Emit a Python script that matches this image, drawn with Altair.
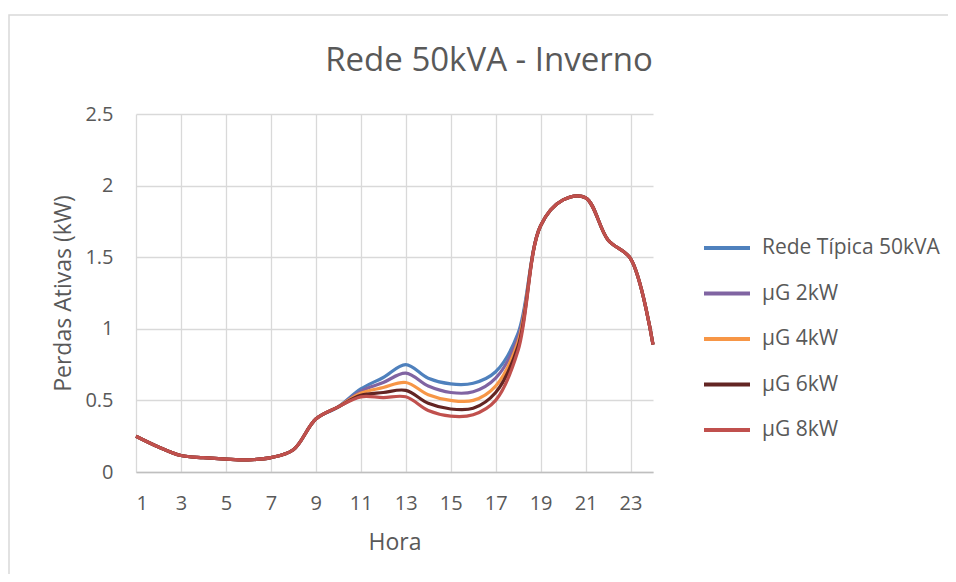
import altair as alt
import pandas as pd

hours = list(range(1, 25))
series_names = ["Rede Típica 50kVA", "µG 2kW", "µG 4kW", "µG 6kW", "µG 8kW"]
colors = ["#4F81BD", "#8064A2", "#F79646", "#632523", "#C0504D"]

common_start = [0.25, 0.175, 0.115, 0.10, 0.09, 0.085, 0.10, 0.155, 0.37, 0.455]
common_end = [1.72, 1.90, 1.915, 1.62, 1.49, 0.89]  # hours 19..24

mid_blue = [0.58, 0.66, 0.75, 0.655, 0.615, 0.62, 0.70, 0.97]     # hours 11..18
mid_purple = [0.565, 0.625, 0.69, 0.60, 0.555, 0.56, 0.655, 0.94]
mid_orange = [0.55, 0.59, 0.625, 0.54, 0.50, 0.50, 0.60, 0.91]
mid_dark = [0.535, 0.555, 0.57, 0.48, 0.44, 0.445, 0.555, 0.88]
mid_red = [0.525, 0.52, 0.525, 0.43, 0.39, 0.40, 0.50, 0.85]

mids = [mid_blue, mid_purple, mid_orange, mid_dark, mid_red]

rows = []
for i, (name, mid) in enumerate(zip(series_names, mids)):
    vals = common_start + mid + common_end
    for h, v in zip(hours, vals):
        rows.append({"Hora": h, "Perdas": v, "Série": name, "ord": i})
df = pd.DataFrame(rows)

x_ticks = list(range(1, 24, 2))
y_ticks = [0, 0.5, 1, 1.5, 2, 2.5]
title_text = "Rede 50kVA - Inverno"
FONT = "Open Sans"
TXT = "#595959"

lines = alt.Chart(df).mark_line(interpolate="catmull-rom", strokeWidth=3.2).encode(
    x=alt.X("Hora:Q", scale=alt.Scale(domain=[1, 24], nice=False),
            axis=alt.Axis(values=x_ticks, title="Hora", grid=True, ticks=False,
                          labelPadding=21, titlePadding=18, format="d")),
    y=alt.Y("Perdas:Q", scale=alt.Scale(domain=[0, 2.5], nice=False),
            axis=alt.Axis(values=y_ticks, title="Perdas Ativas (kW)", grid=True, ticks=False,
                          labelPadding=23, titlePadding=9, format="~g", domain=False)),
    color=alt.Color("Série:N", scale=alt.Scale(domain=series_names, range=colors),
                    legend=alt.Legend(title=None, orient="none", legendX=566, legendY=109,
                                      symbolType="stroke", symbolSize=2116, symbolStrokeWidth=4,
                                      labelFontSize=21, labelFont=FONT, labelColor=TXT,
                                      labelLimit=400,
                                      rowPadding=10.5, labelOffset=10, symbolOffset=0)),
    order=alt.Order("ord:Q"),
)

border = alt.Chart(pd.DataFrame({"a": [0]})).mark_rect(
    filled=False, stroke="#d9d9d9", strokeWidth=1.5
).encode(x=alt.value(-127), x2=alt.value(830), y=alt.value(-99), y2=alt.value(480))

title = alt.Chart(pd.DataFrame({"t": [title_text]})).mark_text(
    font=FONT, fontSize=33, color=TXT, align="center", baseline="middle"
).encode(text="t:N", x=alt.value(353), y=alt.value(-53))

chart = alt.layer(border, title, lines).properties(
    width=517, height=358,
    autosize=alt.AutoSizeParams(type="none"),
    padding={"left": 128, "top": 106, "right": 295, "bottom": 102},
).configure_view(stroke=None).configure_axis(
    labelFont=FONT, titleFont=FONT, labelFontSize=20, titleFontSize=23,
    labelColor=TXT, titleColor=TXT, titleFontWeight="normal",
    gridColor="#d9d9d9", gridWidth=1.3, domainColor="#bfbfbf", domainWidth=1.3,
)

chart.save("out.html", embed_options={"renderer": "svg", "actions": False})
